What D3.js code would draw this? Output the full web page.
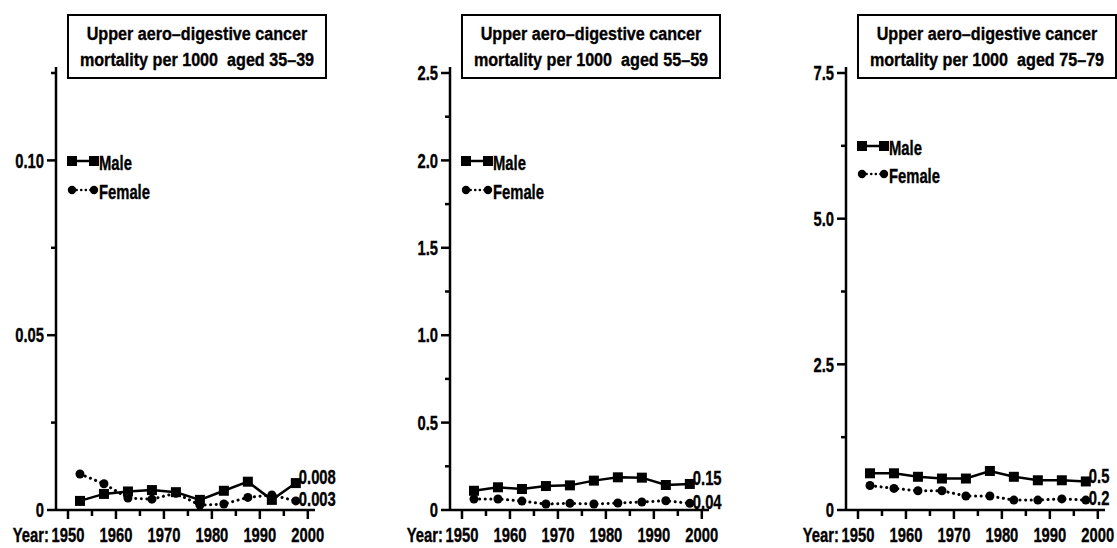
<!DOCTYPE html>
<html><head><meta charset="utf-8">
<script src="https://cdn.jsdelivr.net/npm/d3@7"></script>
<style>
body{margin:0;background:#fff;}
svg text{font-family:"Liberation Sans","Arial",sans-serif;font-weight:bold;fill:#000;stroke:#000;stroke-width:0.35px;}
</style></head><body>
<svg id="c" width="1117" height="548"></svg>
<script>
// ---- data ----
const years = [1952.5,1957.5,1962.5,1967.5,1972.5,1977.5,1982.5,1987.5,1992.5,1997.5];
const xTickYears = [1950,1960,1970,1980,1990,2000];
const xMinorYears = [1955,1965,1975,1985,1995];
const ageGroups = ["35–39","55–59","75–79"];
const seriesNames = ["Male","Female"];

const male_35_39   = [0.0026,0.0046,0.0053,0.0057,0.0051,0.0029,0.0055,0.0081,0.0029,0.0077];
const female_35_39 = [0.0103,0.0075,0.0034,0.0031,0.0048,0.0014,0.0017,0.0036,0.0043,0.0026];
const male_55_59   = [0.110,0.130,0.120,0.137,0.141,0.168,0.187,0.185,0.143,0.149];
const female_55_59 = [0.063,0.063,0.051,0.034,0.038,0.034,0.040,0.046,0.053,0.038];
const male_75_79   = [0.63,0.63,0.57,0.54,0.54,0.67,0.57,0.51,0.51,0.49];
const female_75_79 = [0.42,0.37,0.33,0.33,0.24,0.24,0.17,0.17,0.19,0.17];

const yMax_list = [0.125, 2.5, 7.5];
const yMajor_35_39 = [0, 0.05, 0.10];
const yMajorLabels_35_39 = ["0","0.05","0.10"];
const yMinor_35_39 = [0.025, 0.075, 0.125];
const yMajor_55_59 = [0, 0.5, 1.0, 1.5, 2.0, 2.5];
const yMajorLabels_55_59 = ["0","0.5","1.0","1.5","2.0","2.5"];
const yMinor_55_59 = [0.25, 0.75, 1.25, 1.75, 2.25];
const yMajor_75_79 = [0, 2.5, 5.0, 7.5];
const yMajorLabels_75_79 = ["0","2.5","5.0","7.5"];
const yMinor_75_79 = [1.25, 3.75, 6.25];

const endLabelsMale = ["0.008","0.15","0.5"];
const endLabelsFemale = ["0.003","0.04","0.2"];

// ---- layout ----
const svg = d3.select("#c");
const panels = [
  {axisX:56,  male:male_35_39, female:female_35_39, yMax:yMax_list[0], major:yMajor_35_39, majorLab:yMajorLabels_35_39, minor:yMinor_35_39, legY:[161,190]},
  {axisX:450, male:male_55_59, female:female_55_59, yMax:yMax_list[1], major:yMajor_55_59, majorLab:yMajorLabels_55_59, minor:yMinor_55_59, legY:[161,190]},
  {axisX:846, male:male_75_79, female:female_75_79, yMax:yMax_list[2], major:yMajor_75_79, majorLab:yMajorLabels_75_79, minor:yMinor_75_79, legY:[146,174]}
];
const y0 = 510, yTop = 73, FS = 20, SX = 0.74;

function addText(g, x, y, str, anchor, dy, fs, sx) {
  const t = g.append("g").attr("transform", `translate(${x},${y}) scale(${sx||SX},1)`)
    .append("text").attr("x",0).attr("y",0).attr("text-anchor",anchor||"start")
    .style("font-size",(fs||FS)+"px").attr("xml:space","preserve").text(str);
  if (dy) t.attr("dy", dy);
  return t;
}

panels.forEach((p, i) => {
  const g = svg.append("g");
  const x = d3.scaleLinear().domain([1947.5, 2001.5]).range([p.axisX, p.axisX + 259]);
  const y = d3.scaleLinear().domain([0, p.yMax]).range([y0, yTop]);

  // y axis
  g.append("line").attr("x1",p.axisX).attr("x2",p.axisX).attr("y1",y0).attr("y2",yTop-6)
    .attr("stroke","#000").attr("stroke-width",2.5);
  g.selectAll(".ymaj").data(p.major).join("line")
    .attr("x1",p.axisX-9).attr("x2",p.axisX).attr("y1",d=>y(d)).attr("y2",d=>y(d))
    .attr("stroke","#000").attr("stroke-width",2.5);
  g.selectAll(".ymin").data(p.minor).join("line")
    .attr("x1",p.axisX-5).attr("x2",p.axisX).attr("y1",d=>y(d)).attr("y2",d=>y(d))
    .attr("stroke","#000").attr("stroke-width",2.5);
  p.major.forEach((d,j) => addText(g, p.axisX-12, y(d), p.majorLab[j], "end", "0.36em"));

  // x axis
  g.append("line").attr("x1",p.axisX).attr("x2",x(2001.5)).attr("y1",y0).attr("y2",y0)
    .attr("stroke","#000").attr("stroke-width",2.5);
  g.selectAll(".xmaj").data(xTickYears).join("line")
    .attr("x1",d=>x(d)).attr("x2",d=>x(d)).attr("y1",y0).attr("y2",y0+9)
    .attr("stroke","#000").attr("stroke-width",2.5);
  g.selectAll(".xmin").data(xMinorYears).join("line")
    .attr("x1",d=>x(d)).attr("x2",d=>x(d)).attr("y1",y0).attr("y2",y0+6)
    .attr("stroke","#000").attr("stroke-width",2.5);
  xTickYears.forEach(d => addText(g, x(d), 542, String(d), "middle"));
  addText(g, x(1950)-19, 542, "Year:", "end");

  // title box
  const bx = x(1950);
  g.append("rect").attr("x",bx).attr("y",15).attr("width",258).attr("height",63)
    .attr("fill","#fff").attr("stroke","#000").attr("stroke-width",2);
  addText(g, bx+129, 40, "Upper aero–digestive cancer", "middle", null, 19, 0.85);
  addText(g, bx+129, 65.5, "mortality per 1000  aged " + ageGroups[i], "middle", null, 19, 0.85);

  // lines
  const line = d3.line().x((d,j)=>x(years[j])).y(d=>y(d));
  g.append("path").datum(p.female).attr("d",line).attr("fill","none")
    .attr("stroke","#000").attr("stroke-width",3).attr("stroke-linecap","round")
    .attr("stroke-dasharray","0.1 5.5");
  g.selectAll(".fpt").data(p.female).join("circle")
    .attr("cx",(d,j)=>x(years[j])).attr("cy",d=>y(d)).attr("r",4.5).attr("fill","#000");
  g.append("path").datum(p.male).attr("d",line).attr("fill","none")
    .attr("stroke","#000").attr("stroke-width",2.5);
  g.selectAll(".mpt").data(p.male).join("rect")
    .attr("x",(d,j)=>x(years[j])-5).attr("y",d=>y(d)-5).attr("width",10).attr("height",10).attr("fill","#000");

  // end labels
  const lx = x(years[years.length-1]) + 3;
  addText(g, lx, y(p.male[p.male.length-1])-6, endLabelsMale[i], "start", "0.36em");
  addText(g, lx, y(p.female[p.female.length-1])-2, endLabelsFemale[i], "start", "0.36em");

  // legend
  const l1 = bx + 4, l2 = bx + 26;
  g.append("line").attr("x1",l1).attr("x2",l2).attr("y1",p.legY[0]).attr("y2",p.legY[0])
    .attr("stroke","#000").attr("stroke-width",2.5);
  g.selectAll(".lm").data([l1,l2]).join("rect")
    .attr("x",d=>d-5).attr("y",p.legY[0]-5).attr("width",10).attr("height",10).attr("fill","#000");
  g.append("line").attr("x1",l1).attr("x2",l2).attr("y1",p.legY[1]).attr("y2",p.legY[1])
    .attr("stroke","#000").attr("stroke-width",2.5).attr("stroke-linecap","round")
    .attr("stroke-dasharray","0.1 4.5");
  g.selectAll(".lf").data([l1,l2]).join("circle")
    .attr("cx",d=>d).attr("cy",p.legY[1]).attr("r",4.2).attr("fill","#000");
  addText(g, l2+5, p.legY[0]+2, seriesNames[0], "start", "0.36em");
  addText(g, l2+5, p.legY[1]+2, seriesNames[1], "start", "0.36em");
});
</script>
</body></html>
